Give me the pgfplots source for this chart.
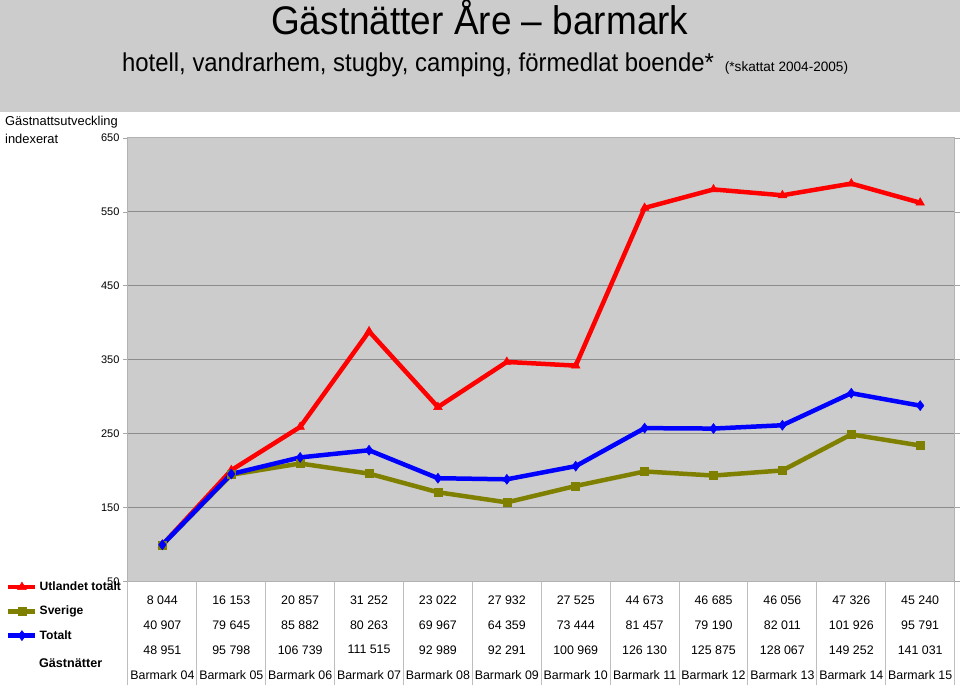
\documentclass[border=0pt]{standalone}
\usepackage{pgfplots}
\pgfplotsset{compat=1.18}
\usepackage{fontspec}
\setmainfont{Liberation Sans}
\definecolor{bggray}{RGB}{204,204,204}
\definecolor{gridgray}{RGB}{140,140,140}
\definecolor{olivec}{RGB}{128,128,0}
\definecolor{tblline}{RGB}{190,190,190}
\begin{document}
\begin{tikzpicture}[x=1pt,y=1pt]
\fill[white] (0,0) rectangle (960,697);
\fill[bggray] (0,585) rectangle (960,697);
\node[anchor=base,inner sep=0,font=\fontsize{37}{40}\selectfont] at (480,662) {\scalebox{1}[1.08]{Gästnätter Åre – barmark}};
\node[anchor=base west,inner sep=0,font=\fontsize{23.9}{26}\selectfont] at (122,625) {\scalebox{1}[1.08]{hotell, vandrarhem, stugby, camping, förmedlat boende*}};
\node[anchor=base west,inner sep=0,font=\fontsize{13.6}{15}\selectfont] at (725,625) {(*skattat 2004-2005)};
\node[anchor=base west,inner sep=0,font=\fontsize{12.9}{14}\selectfont] at (5,571) {Gästnattsutveckling};
\node[anchor=base west,inner sep=0,font=\fontsize{12.9}{14}\selectfont] at (5,553) {indexerat};

% table grid
\foreach \k in {0,...,12} {
  \draw[tblline, line width=1pt] ({128+\k*68.9167},115) -- ({128+\k*68.9167},12);
}
\foreach [count=\i from 0] \a/\b/\c/\d in {
  8 044/40 907/48 951/Barmark 04,
  16 153/79 645/95 798/Barmark 05,
  20 857/85 882/106 739/Barmark 06,
  31 252/80 263/111 515/Barmark 07,
  23 022/69 967/92 989/Barmark 08,
  27 932/64 359/92 291/Barmark 09,
  27 525/73 444/100 969/Barmark 10,
  44 673/81 457/126 130/Barmark 11,
  46 685/79 190/125 875/Barmark 12,
  46 056/82 011/128 067/Barmark 13,
  47 326/101 926/149 252/Barmark 14,
  45 240/95 791/141 031/Barmark 15} {
  \pgfmathsetmacro{\xc}{128+(\i+0.5)*68.9167}
  \node[font=\fontsize{12.4}{14}\selectfont,inner sep=0] at (\xc,97) {\a};
  \node[font=\fontsize{12.4}{14}\selectfont,inner sep=0] at (\xc,72) {\b};
  \node[font=\fontsize{12.4}{14}\selectfont,inner sep=0] at (\xc,47) {\c};
  \node[font=\fontsize{12.4}{14}\selectfont,inner sep=0] at (\xc,22) {\d};
}
\node[anchor=west,inner sep=0,font=\bfseries\fontsize{12.6}{14}\selectfont] at (39,34) {Gästnätter};

\begin{axis}[
  at={(128pt,115pt)}, anchor=south west,
  scale only axis, width=827pt, height=444pt,
  xmin=-0.5, xmax=11.5, ymin=50, ymax=650,
  xtick=\empty, ytick={50,150,...,650},
  ymajorgrids, grid style={gridgray, line width=1pt},
  axis background/.style={fill=bggray},
  axis line style={draw=gray!60, line width=1pt},
  tick align=outside, major tick length=5pt,
  every tick/.style={gray!70, line width=0.8pt},
  tick label style={font=\fontsize{11}{12}\selectfont},
  /pgf/number format/assume math mode=true,
  clip=false,
  legend style={at={(-0.1475,0.0045)}, anchor=north west, draw=none, fill=none,
    font=\bfseries\fontsize{12.1}{13}\selectfont, row sep=10pt, inner sep=0pt},
  legend cell align=left,
  legend image code/.code={\draw[mark repeat=2,mark phase=2] plot coordinates {(0pt,0pt) (13.5pt,0pt) (27pt,0pt)};},
]
\addplot[red, line width=4.5pt, mark=triangle*, mark size=5pt, mark options={line width=0.5pt}] coordinates {
(0,100.0) (1,200.8) (2,259.3) (3,388.5) (4,286.2) (5,347.2) (6,342.2) (7,555.4) (8,580.4) (9,572.5) (10,588.3) (11,562.4)};
\addlegendentry{Utlandet totalt}
\addplot[olivec, line width=4.5pt, mark=square*, mark size=4pt, mark options={line width=0.5pt}] coordinates {
(0,100.0) (1,194.7) (2,209.9) (3,196.2) (4,171.0) (5,157.3) (6,179.5) (7,199.1) (8,193.6) (9,200.5) (10,249.2) (11,234.2)};
\addlegendentry{Sverige}
\addplot[blue, line width=4.5pt, mark=diamond*, mark size=5pt, mark options={line width=0.5pt}] coordinates {
(0,100.0) (1,195.7) (2,218.1) (3,227.8) (4,190.0) (5,188.5) (6,206.3) (7,257.7) (8,257.1) (9,261.6) (10,304.9) (11,288.1)};
\addlegendentry{Totalt}
\end{axis}
\end{tikzpicture}
\end{document}
